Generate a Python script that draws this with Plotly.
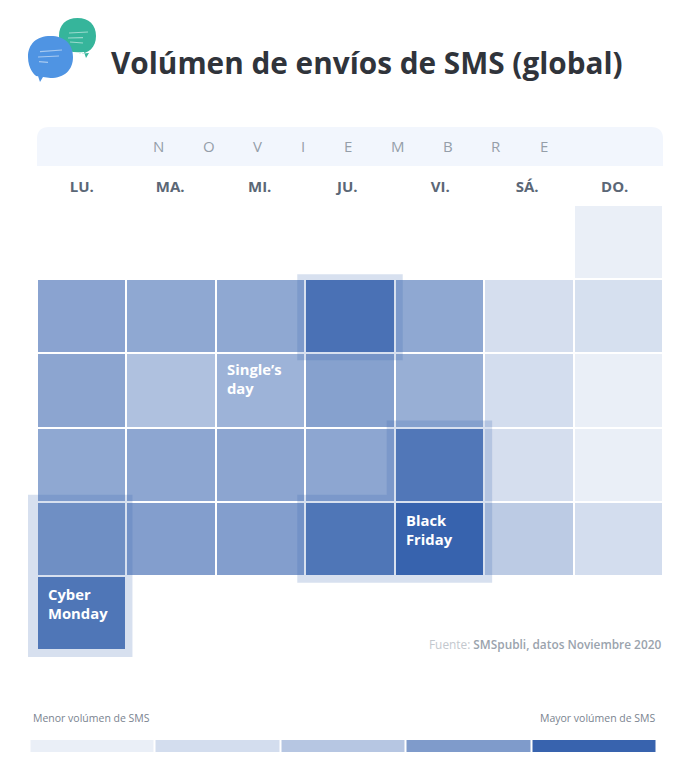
import plotly.graph_objects as go

# Tamano de la pagina
WIDTH = 693
HEIGHT = 770

DAYS = ["LU.", "MA.", "MI.", "JU.", "VI.", "SÁ.", "DO."]
MONTH_LETTERS = ["N", "O", "V", "I", "E", "M", "B", "R", "E"]
WEEK_1 = [None, None, None, None, None, None, 0]
WEEK_2 = [54, 51, 51, 87, 51, 12, 11]
WEEK_3 = [53, 33, 43, 56, 46, 13, 0]
WEEK_4 = [51, 52, 53, 52, 82, 12, 0]
WEEK_5 = [61, 58, 58, 83, 100, 26, 13]
WEEK_6 = [83, None, None, None, None, None, None]
LEGEND_VALUES = [0, 13, 29, 60, 100]

COLOR_LOW = "#EAEFF7"
COLOR_HIGH = "#3863AE"
HIGHLIGHT = "rgba(56,99,174,0.2)"

# Medida de una celda en pixeles y margen extra del area de dibujo
CELL_W = 626 / 7
CELL_H = 445 / 6
EXTRA_X = 17
EXTRA_Y = 15


def px(x):
    return x / WIDTH


def py(y):
    return 1 - y / HEIGHT


fig = go.Figure()

scale = [[0, COLOR_LOW], [1, COLOR_HIGH]]

# Calendario
fig.add_trace(go.Heatmap(
    z=[WEEK_1, WEEK_2, WEEK_3, WEEK_4, WEEK_5, WEEK_6],
    x=list(range(len(DAYS))),
    y=list(range(6)),
    zmin=0, zmax=100, colorscale=scale, showscale=False,
    xgap=2, ygap=2, hoverongaps=False, hoverinfo="skip",
))

# Leyenda
fig.add_trace(go.Heatmap(
    z=[LEGEND_VALUES],
    x=list(range(len(LEGEND_VALUES))),
    zmin=0, zmax=100, colorscale=scale, showscale=False,
    xgap=2, hoverinfo="skip",
    xaxis="x2", yaxis="y2",
))

# Resaltados alrededor de las celdas
pad_x = 8 / CELL_W
pad_y = 7 / CELL_H
pad_top = 5 / CELL_H

ju = DAYS.index("JU.")
vi = DAYS.index("VI.")
lu = DAYS.index("LU.")


def rect_path(x0, x1, y0, y1):
    return f"M {x0} {y0} L {x1} {y0} L {x1} {y1} L {x0} {y1} Z"


paths = [
    rect_path(ju - .5 - pad_x, ju + .5 + pad_x, .5 - pad_top, 1.5 + pad_y),
    rect_path(lu - .5 - pad_x - 1 / CELL_W, lu + .5 + pad_x - 2 / CELL_W, 3.5 - pad_y, 5.5 + pad_y),
    # Black Friday + jueves anterior, forma en L
    f"M {vi - .5 - pad_x} {2.5 - pad_y} L {vi + .5 + pad_x} {2.5 - pad_y} "
    f"L {vi + .5 + pad_x} {4.5 + pad_y} L {ju - .5 - pad_x} {4.5 + pad_y} "
    f"L {ju - .5 - pad_x} {3.5 - pad_y} L {vi - .5 - pad_x} {3.5 - pad_y} Z",
]
for path in paths:
    fig.add_shape(type="path", path=path, xref="x", yref="y",
                  fillcolor=HIGHLIGHT, line_width=0, layer="above")

# Banda del mes con esquinas superiores redondeadas
fig.add_shape(
    type="path", xref="paper", yref="paper", fillcolor="#F2F6FD", line_width=0, layer="below",
    path=(f"M {px(37)} {py(166)} L {px(37)} {py(139)} Q {px(37)} {py(127)} {px(49)} {py(127)} "
          f"L {px(651)} {py(127)} Q {px(663)} {py(127)} {px(663)} {py(139)} L {px(663)} {py(166)} Z"),
)


# Icono de burbujas
def bubble(x0, x1, y0, y1, tail_x, color):
    cx = (x0 + x1) / 2
    cy = (y0 + y1) / 2
    k = 0.62
    kx = (x1 - x0) / 2 * k
    ky = (y1 - y0) / 2 * k
    return dict(
        type="path", xref="paper", yref="paper", fillcolor=color, line_width=0,
        path=(f"M {px(cx)} {py(y0)} "
              f"C {px(cx + kx)} {py(y0)} {px(x1)} {py(cy - ky)} {px(x1)} {py(cy)} "
              f"C {px(x1)} {py(cy + ky)} {px(cx + kx)} {py(y1)} {px(cx)} {py(y1)} "
              f"L {px(tail_x + 3)} {py(y1 - 1)} L {px(tail_x)} {py(y1 + 4)} L {px(tail_x - 2)} {py(y1 - 2)} "
              f"C {px(cx - kx)} {py(y1)} {px(x0)} {py(cy + ky)} {px(x0)} {py(cy)} "
              f"C {px(x0)} {py(cy - ky)} {px(cx - kx)} {py(y0)} {px(cx)} {py(y0)} Z"),
    )


fig.add_shape(**bubble(59, 96, 18, 54, 86, "#36B59B"))
fig.add_shape(**bubble(28, 73, 36, 78, 40, "#4F94E3"))

streaks = [
    (69, 33, 88, 32), (68, 38, 83, 37.7), (70, 42, 83, 43),
    (40, 51.7, 62, 50), (38, 57, 59, 56), (39, 61.7, 48, 62.3),
]
for x0, y0, x1, y1 in streaks:
    fig.add_shape(type="line", xref="paper", yref="paper",
                  x0=px(x0), y0=py(y0), x1=px(x1), y1=py(y1),
                  line=dict(color="rgba(255,255,255,0.5)", width=1.2))


def label(text, x, y, size, color, anchor="left", weight=400):
    fig.add_annotation(text=text, xref="paper", yref="paper", x=px(x), y=py(y),
                       xanchor=anchor, yanchor="middle", showarrow=False, borderpad=0,
                       font=dict(family="Open Sans", size=size, color=color, weight=weight))


label("Volúmen de envíos de SMS (global)", 110, 63, 29.75, "#30343B", weight=700)

# Letras del mes
month_x = [158, 209, 257.5, 303, 348, 398, 448, 496, 544]
for letter, x in zip(MONTH_LETTERS, month_x):
    label(letter, x, 146.5, 15, "#959EA9", anchor="center", weight=400)

label('<span style="color:#C3C8CE">Fuente: </span>'
      '<span style="font-weight:600">SMSpubli, datos Noviembre 2020</span>',
      662, 644, 11.85, "#9AA3AD", anchor="right")
label("Menor volúmen de SMS", 31.5, 717.5, 10.5, "#7A838F")
label("Mayor volúmen de SMS", 657, 717.5, 10.5, "#7A838F", anchor="right")

# Etiquetas de dias especiales
specials = [("MI.", 2, "Single’s<br>day", -5), ("VI.", 4, "Black<br>Friday", -7), ("LU.", 5, "Cyber<br>Monday", -7)]
for day, week, text, shift in specials:
    fig.add_annotation(text=text, x=DAYS.index(day) - .5, y=week - .5, xref="x", yref="y",
                       xanchor="left", yanchor="top", align="left", showarrow=False,
                       xshift=10, yshift=shift, borderpad=0,
                       font=dict(family="Open Sans", size=14.8, color="white", weight=700))

fig.update_layout(
    width=WIDTH, height=HEIGHT,
    margin=dict(l=0, r=0, t=0, b=0),
    paper_bgcolor="white", plot_bgcolor="rgba(0,0,0,0)",
    showlegend=False,
    xaxis=dict(domain=[px(37 - EXTRA_X), px(663 + EXTRA_X)],
               range=[-.5 - EXTRA_X / CELL_W, 6.5 + EXTRA_X / CELL_W], side="top",
               tickmode="array", tickvals=[0, 0.99, 1.99, 2.97, 4.01, 4.98, 5.96], ticktext=DAYS,
               ticks="outside", ticklen=6, tickcolor="rgba(0,0,0,0)", showgrid=False, zeroline=False,
               tickfont=dict(family="Open Sans", size=15, color="#5B6776", weight=700)),
    yaxis=dict(domain=[py(650 + EXTRA_Y), py(205)], range=[5.5 + EXTRA_Y / CELL_H, -.5], visible=False),
    xaxis2=dict(domain=[px(29.5), px(656.5)], range=[-.5, 4.5], anchor="y2", visible=False),
    yaxis2=dict(domain=[py(752), py(740)], anchor="x2", visible=False),
)

fig.write_html("out.html", config=dict(displayModeBar=False),
               post_script="document.body.style.margin='0';")
